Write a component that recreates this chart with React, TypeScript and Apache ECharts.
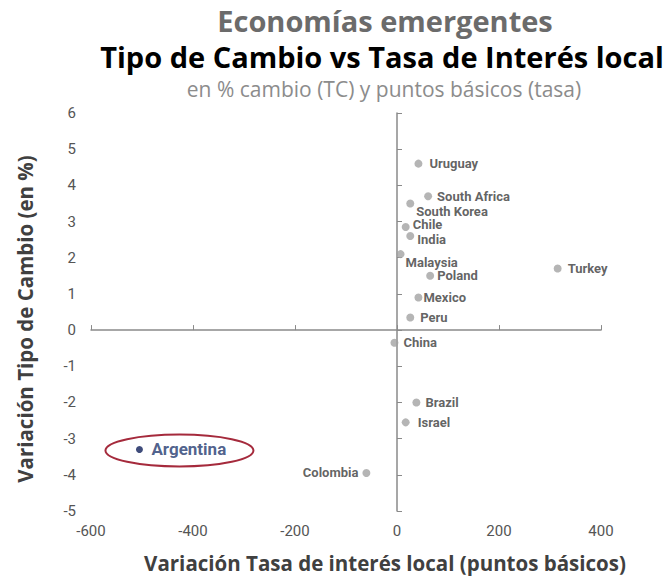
import { useEffect, useRef } from 'react';
import * as echarts from 'echarts';

const countries = ['Uruguay', 'South Africa', 'South Korea', 'Chile', 'India', 'Malaysia', 'Poland', 'Turkey', 'Mexico', 'Peru', 'China', 'Brazil', 'Israel', 'Colombia', 'Argentina'];
const rateChangeBp = [42, 61, 26, 17, 26, 7, 65, 315, 42, 26, -5, 38, 17, -60, -505];
const fxChangePct = [4.6, 3.7, 3.5, 2.85, 2.6, 2.1, 1.5, 1.7, 0.9, 0.35, -0.35, -2.0, -2.55, -3.95, -3.3];

const xMin = -600, xMax = 400, xStep = 200;
const yMin = -5, yMax = 6, yStep = 1;

const highlight = 'Argentina';

// label placement relative to the dot centre, in px (layout only)
const labelLayout: Record<string, { dx: number; dy: number; align?: string }> = {
  'Uruguay': { dx: 11, dy: 0 },
  'South Africa': { dx: 9, dy: 0 },
  'South Korea': { dx: 6, dy: 8 },
  'Chile': { dx: 7, dy: -2 },
  'India': { dx: 7, dy: 3 },
  'Malaysia': { dx: 5, dy: 8 },
  'Poland': { dx: 7, dy: 0 },
  'Turkey': { dx: 10, dy: 0 },
  'Mexico': { dx: 5, dy: 0 },
  'Peru': { dx: 10, dy: 0 },
  'China': { dx: 9, dy: 0 },
  'Brazil': { dx: 9, dy: 0 },
  'Israel': { dx: 12, dy: 0 },
  'Colombia': { dx: -8, dy: -1, align: 'right' },
  'Argentina': { dx: 12, dy: 0 },
};

export default function App() {
  const ref = useRef<HTMLDivElement>(null);
  useEffect(() => {
    document.body.style.margin = '0';
    const chart = echarts.init(ref.current!, null, { renderer: 'svg' });
    const data = countries.map((c, i) => {
      const l = labelLayout[c] || { dx: 8, dy: 0 };
      const isHi = c === highlight;
      const s = isHi ? 7 : 8;
      return {
        name: c,
        value: [rateChangeBp[i], fxChangePct[i]],
        symbolSize: s,
        itemStyle: { color: isHi ? '#0f1f5a' : '#a3a3a3' },
        label: {
          show: true,
          formatter: '{b}',
          position: [s / 2 + l.dx, s / 2 + l.dy],
          align: l.align || 'left',
          verticalAlign: 'middle',
          fontFamily: 'Roboto',
          fontWeight: 'bold',
          fontSize: isHi ? 17 : 13,
          color: isHi ? '#22386e' : '#3a3a3a',
        },
      };
    });
    const axisFont = { fontFamily: 'Roboto', fontSize: 15, color: '#555555' };
    chart.setOption({
      animation: false,
      backgroundColor: '#ffffff',
      grid: { left: 91, right: 65, top: 113, bottom: 67, containLabel: false },
      xAxis: [
        {
          type: 'value', min: xMin, max: xMax, interval: xStep,
          axisLine: { show: false }, axisTick: { show: false }, splitLine: { show: false },
          axisLabel: { ...axisFont, margin: 12 },
        },
        {
          type: 'value', min: xMin, max: xMax, interval: xStep, position: 'bottom',
          axisLine: { show: true, onZero: true, onZeroAxisIndex: 0, lineStyle: { color: '#8a8a8a', width: 1.5 } },
          axisTick: { show: true, inside: true, length: 5, lineStyle: { color: '#8a8a8a' } },
          axisLabel: { show: false }, splitLine: { show: false },
        },
      ],
      yAxis: [
        {
          type: 'value', min: yMin, max: yMax, interval: yStep,
          axisLine: { show: false }, axisTick: { show: false }, splitLine: { show: false },
          axisLabel: { ...axisFont, margin: 15 },
        },
        {
          type: 'value', min: yMin, max: yMax, interval: yStep, position: 'left',
          axisLine: { show: true, onZero: true, onZeroAxisIndex: 0, lineStyle: { color: '#8a8a8a', width: 1.5 } },
          axisTick: { show: true, inside: true, length: 5, lineStyle: { color: '#8a8a8a' } },
          axisLabel: { show: false }, splitLine: { show: false },
        },
      ],
      series: [
        {
          type: 'scatter', xAxisIndex: 0, yAxisIndex: 0,
          data,
          labelLayout: { hideOverlap: false },
        },
      ],
    });

    const hiIdx = countries.indexOf(highlight);
    const p = chart.convertToPixel({ seriesIndex: 0 }, [rateChangeBp[hiIdx], fxChangePct[hiIdx]]) as number[];
    const titleFont = 'Open Sans';
    chart.setOption({
      graphic: [
        { type: 'text', x: 385, y: 20, style: { text: 'Economías emergentes', fill: '#6b6b6b', font: `bold 29px "${titleFont}"`, textAlign: 'center', textVerticalAlign: 'middle' } },
        { type: 'text', x: 382, y: 56, style: { text: 'Tipo de Cambio vs Tasa de Interés local', fill: '#000000', font: `bold 29px "${titleFont}"`, textAlign: 'center', textVerticalAlign: 'middle' } },
        { type: 'text', x: 384, y: 89, style: { text: 'en % cambio (TC) y puntos básicos (tasa)', fill: '#8c8c8c', font: `21px "${titleFont}"`, textAlign: 'center', textVerticalAlign: 'middle' } },
        { type: 'text', x: 385, y: 563, style: { text: 'Variación Tasa de interés local (puntos básicos)', fill: '#404040', font: `bold 20.5px "${titleFont}"`, textAlign: 'center', textVerticalAlign: 'middle' } },
        { type: 'text', x: 25, y: 319, rotation: Math.PI / 2, style: { text: 'Variación Tipo de Cambio (en %)', fill: '#404040', font: `bold 20.5px "${titleFont}"`, textAlign: 'center', textVerticalAlign: 'middle' } },
        { type: 'ellipse', shape: { cx: p[0] + 40, cy: p[1] + 1, rx: 74, ry: 16 }, style: { fill: 'none', stroke: '#a52a3c', lineWidth: 2 }, silent: true },
      ],
    });
    return () => chart.dispose();
  }, []);
  return <div ref={ref} style={{ width: 666, height: 578 }} />;
}
